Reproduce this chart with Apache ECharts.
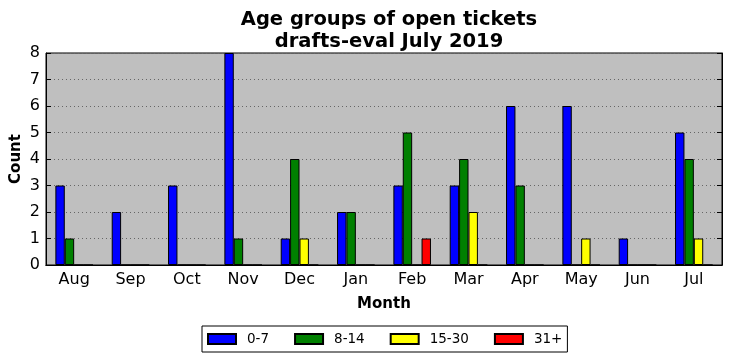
<!DOCTYPE html>
<html><head><meta charset="utf-8">
<script src="https://cdn.jsdelivr.net/npm/echarts@6/dist/echarts.min.js"></script>
<style>html,body{margin:0;padding:0;background:#fff}#c{width:732px;height:361px}</style>
</head><body><div id="c"></div>
<script>
const months = ['Aug','Sep','Oct','Nov','Dec','Jan','Feb','Mar','Apr','May','Jun','Jul'];
const age0_7   = [3,2,3,8,1,2,3,3,6,6,1,5];
const age8_14  = [1,0,0,1,4,2,5,4,3,0,0,4];
const age15_30 = [0,0,0,0,1,0,0,2,0,1,0,1];
const age31    = [0,0,0,0,0,0,1,0,0,0,0,0];
const seriesNames = ['0-7','8-14','15-30','31+'];
const seriesColors = ['#0000ff','#008000','#ffff00','#ff0000'];
const seriesData = [age0_7, age8_14, age15_30, age31];
const yTicks = [0,1,2,3,4,5,6,7,8];

const font = 'DejaVu Sans';
const chart = echarts.init(document.getElementById('c'));
chart.setOption({
  animation: false,
  textStyle: {fontFamily: font},
  title: {
    text: 'Age groups of open tickets\ndrafts-eval July 2019',
    left: 384, textAlign: 'center', top: 4,
    textStyle: {fontFamily: font, fontSize: 19.5, fontWeight: 'bold', color: '#000', lineHeight: 22}
  },
  legend: {
    left: 202, top: 326,
    padding: [6, 5, 6, 5],
    itemWidth: 28, itemHeight: 10, itemGap: 25,
    icon: 'rect',
    borderColor: '#000', borderWidth: 1,
    textStyle: {fontFamily: font, fontSize: 13.5, color: '#000', padding: [0, 0, 0, 6]},
    data: seriesNames
  },
  grid: {
    left: 46, right: 10, top: 53, bottom: 96,
    containLabel: false, outerBoundsMode: 'none',
    show: true, backgroundColor: '#bfbfbf', borderColor: '#000', borderWidth: 1
  },
  xAxis: [{
    type: 'category', data: months,
    axisLine: {lineStyle: {color: '#000'}},
    axisTick: {inside: true, alignWithLabel: true, length: 5, lineStyle: {color: '#000'}},
    axisLabel: {fontFamily: font, fontSize: 16, color: '#000', margin: 7},
    name: 'Month', nameLocation: 'middle', nameGap: 32,
    nameTextStyle: {fontFamily: font, fontSize: 15, fontWeight: 'bold', color: '#000'}
  }, {
    type: 'category', data: months, position: 'top',
    axisLine: {lineStyle: {color: '#000'}},
    axisTick: {inside: true, alignWithLabel: true, length: 5, lineStyle: {color: '#000'}},
    axisLabel: {show: false}
  }],
  yAxis: [{
    type: 'value', min: 0, max: 8, interval: 1,
    axisLine: {show: true, lineStyle: {color: '#000'}},
    axisTick: {show: true, inside: true, length: 5, lineStyle: {color: '#000'}},
    axisLabel: {fontFamily: font, fontSize: 16, color: '#000', margin: 6},
    splitLine: {show: true, lineStyle: {color: '#666', type: [1, 3], width: 1}},
    name: 'Count', nameLocation: 'middle', nameGap: 22, nameRotate: 90, nameMoveOverlap: false,
    nameTextStyle: {fontFamily: font, fontSize: 15, fontWeight: 'bold', color: '#000'}
  }, {
    type: 'value', min: 0, max: 8, interval: 1, position: 'right',
    axisLine: {show: true, lineStyle: {color: '#000'}},
    axisTick: {show: true, inside: true, length: 5, lineStyle: {color: '#000'}},
    axisLabel: {show: false},
    splitLine: {show: false}
  }],
  series: seriesNames.map((n, i) => ({
    name: n, type: 'bar', data: seriesData[i],
    xAxisIndex: 0, yAxisIndex: 0,
    barGap: '0%', barCategoryGap: '33.3%',
    itemStyle: {color: seriesColors[i], borderColor: '#000', borderWidth: 1}
  }))
});
</script></body></html>
